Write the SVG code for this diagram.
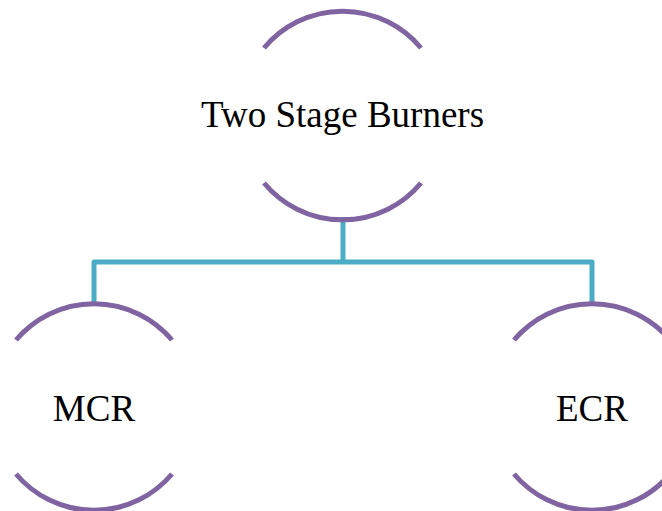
<svg xmlns="http://www.w3.org/2000/svg" width="662" height="511" viewBox="0 0 662 511">
<style>
.arc{fill:none;stroke:#8064A2;stroke-width:5}
.conn{fill:none;stroke:#4BACC6;stroke-width:5;stroke-linejoin:round}
text{font-family:"Liberation Serif","Times New Roman",serif;font-size:37px;fill:#000;text-anchor:middle}
</style>
<rect width="662" height="511" fill="#fff"/>
<g id="connectors">
<path class="conn" d="M343,217 V262"/>
<path class="conn" d="M94,305 V262 H592 V305"/>
</g>
<g id="node-top">
<path class="arc" d="M264,48 A102,102 0 0 1 421,48"/>
<path class="arc" d="M264,183 A102,102 0 0 0 421,183"/>
<text x="342.5" y="127">Two Stage Burners</text>
</g>
<g id="node-mcr">
<path class="arc" d="M16,340 A102,102 0 0 1 172,340"/>
<path class="arc" d="M16,474 A102,102 0 0 0 172,474"/>
<text x="94" y="421">MCR</text>
</g>
<g id="node-ecr">
<path class="arc" d="M514,340 A102,102 0 0 1 670,340"/>
<path class="arc" d="M514,474 A102,102 0 0 0 670,474"/>
<text x="592" y="421">ECR</text>
</g>
</svg>
